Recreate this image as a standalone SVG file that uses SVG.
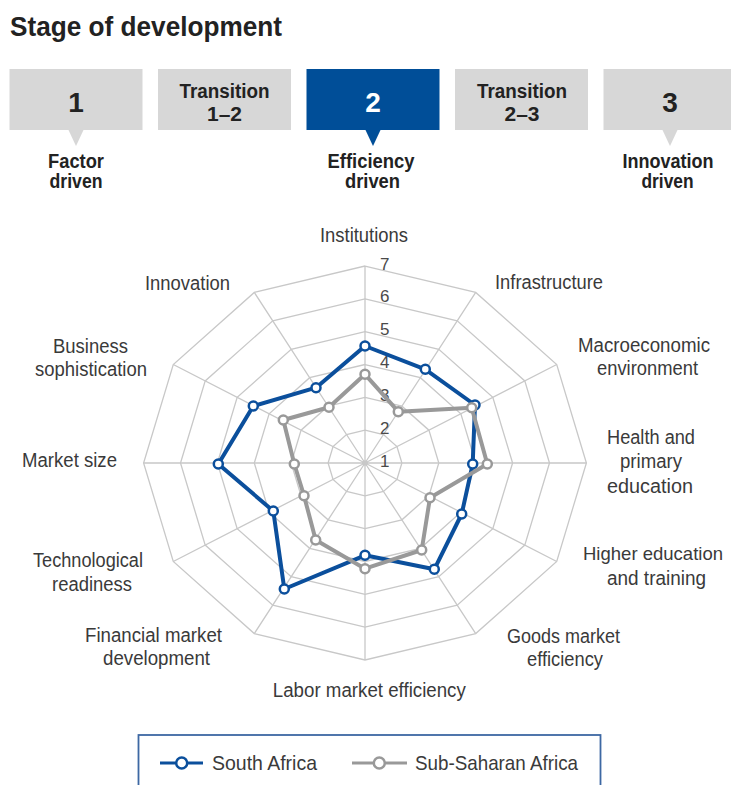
<svg xmlns="http://www.w3.org/2000/svg" width="731" height="785" viewBox="0 0 731 785">
<style>
text{font-family:"Liberation Sans",Arial,sans-serif;}
.title{font-size:28px;font-weight:bold;fill:#222;}
.box{fill:#d7d7d7;}
.boxb{fill:#004e98;}
.bt{font-size:20px;font-weight:bold;fill:#222;text-anchor:middle;}
.num{font-size:28px;font-weight:bold;fill:#222;text-anchor:middle;}
.lab{font-size:20px;fill:#3a3a3a;text-anchor:middle;}
.sc{font-size:17px;fill:#4a4a4a;}
.ring{fill:none;stroke:#c8c8c8;stroke-width:1.3;}
.spoke{stroke:#c8c8c8;stroke-width:1.3;}
.sa{fill:none;stroke:#0b4f9c;stroke-width:4;stroke-linejoin:round;}
.ssa{fill:none;stroke:#999;stroke-width:4;stroke-linejoin:round;}
.msa{fill:#fff;stroke:#0b4f9c;stroke-width:2.5;}
.mssa{fill:#fff;stroke:#999;stroke-width:2.5;}
.leg{font-size:21px;fill:#3a3a3a;}
</style>
<rect width="731" height="785" fill="#fff"/>
<text class="title" x="10" y="36" textLength="272" lengthAdjust="spacingAndGlyphs">Stage of development</text>

<g id="stage1">
<rect class="box" x="9.5" y="69" width="133" height="61"/>
<polygon class="box" points="68,129 84,129 76,146"/>
<text class="num" x="76" y="112">1</text>
<text class="bt" x="76" y="168" textLength="56" lengthAdjust="spacingAndGlyphs">Factor</text>
<text class="bt" x="76" y="188" textLength="53" lengthAdjust="spacingAndGlyphs">driven</text>
</g>
<g id="transition12">
<rect class="box" x="158" y="69" width="133" height="61"/>
<text class="bt" x="224.5" y="98" textLength="90" lengthAdjust="spacingAndGlyphs">Transition</text>
<text class="bt" x="224.5" y="121" textLength="35" lengthAdjust="spacingAndGlyphs">1–2</text>
</g>
<g id="stage2">
<rect class="boxb" x="306.5" y="69" width="133" height="61"/>
<polygon class="boxb" points="365,129 381,129 373,146"/>
<text class="num" x="373" y="112" style="fill:#fff">2</text>
<text class="bt" x="371" y="168" textLength="87" lengthAdjust="spacingAndGlyphs">Efficiency</text>
<text class="bt" x="372.5" y="188" textLength="55" lengthAdjust="spacingAndGlyphs">driven</text>
</g>
<g id="transition23">
<rect class="box" x="455" y="69" width="133" height="61"/>
<text class="bt" x="522" y="98" textLength="90" lengthAdjust="spacingAndGlyphs">Transition</text>
<text class="bt" x="522" y="121" textLength="35" lengthAdjust="spacingAndGlyphs">2–3</text>
</g>
<g id="stage3">
<rect class="box" x="603.5" y="69" width="133" height="61"/>
<polygon class="box" points="662,129 678,129 670,146"/>
<text class="num" x="670" y="112">3</text>
<text class="bt" x="668" y="168" textLength="91" lengthAdjust="spacingAndGlyphs">Innovation</text>
<text class="bt" x="667.5" y="188" textLength="52" lengthAdjust="spacingAndGlyphs">driven</text>
</g>

<g id="grid">
<polygon class="ring" points="365,430.17 383.45,434.57 396.96,446.59 401.9,463 396.96,479.42 383.45,491.43 365,495.83 346.55,491.43 333.04,479.42 328.1,463 333.04,446.58 346.55,434.57"/>
<polygon class="ring" points="365,397.34 401.9,406.14 428.91,430.17 438.8,463 428.91,495.83 401.9,519.86 365,528.66 328.1,519.86 301.09,495.83 291.2,463 301.09,430.17 328.1,406.14"/>
<polygon class="ring" points="365,364.51 420.35,377.71 460.87,413.75 475.7,463 460.87,512.25 420.35,548.29 365,561.49 309.65,548.29 269.13,512.25 254.3,463 269.13,413.75 309.65,377.71"/>
<polygon class="ring" points="365,331.68 438.8,349.28 492.82,397.34 512.6,463 492.82,528.66 438.8,576.72 365,594.32 291.2,576.72 237.18,528.66 217.4,463 237.18,397.34 291.2,349.28"/>
<polygon class="ring" points="365,298.85 457.25,320.85 524.78,380.92 549.5,463 524.78,545.08 457.25,605.15 365,627.15 272.75,605.15 205.22,545.08 180.5,463 205.22,380.92 272.75,320.85"/>
<polygon class="ring" points="365,266.02 475.7,292.41 556.73,364.51 586.4,463 556.73,561.49 475.7,633.59 365,659.98 254.3,633.59 173.27,561.49 143.6,463 173.27,364.51 254.3,292.41"/>
<path class="spoke" d="M365,463L365,266.02M365,463L475.7,292.41M365,463L556.73,364.51M365,463L586.4,463M365,463L556.73,561.49M365,463L475.7,633.59M365,463L365,659.98M365,463L254.3,633.59M365,463L173.27,561.49M365,463L143.6,463M365,463L173.27,364.51M365,463L254.3,292.41"/>
<circle cx="365" cy="463" r="2.5" fill="#c8c8c8"/>
</g>

<g id="scale">
<text class="sc" x="380" y="269.5">7</text>
<text class="sc" x="380" y="302.3">6</text>
<text class="sc" x="380" y="335.2">5</text>
<text class="sc" x="380" y="368">4</text>
<text class="sc" x="380" y="400.8">3</text>
<text class="sc" x="380" y="433.6">2</text>
<text class="sc" x="380" y="466.5">1</text>
</g>

<g id="axis-labels">
<text class="lab" x="364" y="242" textLength="88" lengthAdjust="spacingAndGlyphs">Institutions</text>
<text class="lab" x="549" y="289" textLength="108" lengthAdjust="spacingAndGlyphs">Infrastructure</text>
<text class="lab" x="644" y="352" textLength="132" lengthAdjust="spacingAndGlyphs">Macroeconomic</text>
<text class="lab" x="647.5" y="375" textLength="101" lengthAdjust="spacingAndGlyphs">environment</text>
<text class="lab" x="651" y="444" textLength="88" lengthAdjust="spacingAndGlyphs">Health and</text>
<text class="lab" x="651" y="468" textLength="62" lengthAdjust="spacingAndGlyphs">primary</text>
<text class="lab" x="650" y="493" textLength="86" lengthAdjust="spacingAndGlyphs">education</text>
<text class="lab" x="653" y="560" textLength="140" lengthAdjust="spacingAndGlyphs" style="font-size:19px">Higher education</text>
<text class="lab" x="656.5" y="585" textLength="99" lengthAdjust="spacingAndGlyphs">and training</text>
<text class="lab" x="563.5" y="643" textLength="113" lengthAdjust="spacingAndGlyphs">Goods market</text>
<text class="lab" x="565" y="666" textLength="76" lengthAdjust="spacingAndGlyphs">efficiency</text>
<text class="lab" x="369.3" y="697" textLength="193" lengthAdjust="spacingAndGlyphs">Labor market efficiency</text>
<text class="lab" x="153.5" y="642" textLength="137" lengthAdjust="spacingAndGlyphs">Financial market</text>
<text class="lab" x="156.5" y="665" textLength="107" lengthAdjust="spacingAndGlyphs">development</text>
<text class="lab" x="88" y="567" textLength="110" lengthAdjust="spacingAndGlyphs">Technological</text>
<text class="lab" x="92" y="591" textLength="80" lengthAdjust="spacingAndGlyphs">readiness</text>
<text class="lab" x="69.5" y="467" textLength="95" lengthAdjust="spacingAndGlyphs">Market size</text>
<text class="lab" x="90.5" y="353" textLength="75" lengthAdjust="spacingAndGlyphs">Business</text>
<text class="lab" x="91" y="376" textLength="112" lengthAdjust="spacingAndGlyphs">sophistication</text>
<text class="lab" x="187.5" y="290" textLength="85" lengthAdjust="spacingAndGlyphs">Innovation</text>
</g>

<g id="series-south-africa">
<polygon class="sa" points="365,346 425.3,369.3 475,405 472.7,464 461.7,514 434.3,569.3 365,555.3 284.3,589 273.3,511 218.3,464 253.3,406 316,387.7"/>
<g class="msa">
<circle cx="365" cy="346" r="4.5"/><circle cx="425.3" cy="369.3" r="4.5"/><circle cx="475" cy="405" r="4.5"/><circle cx="472.7" cy="464" r="4.5"/><circle cx="461.7" cy="514" r="4.5"/><circle cx="434.3" cy="569.3" r="4.5"/><circle cx="365" cy="555.3" r="4.5"/><circle cx="284.3" cy="589" r="4.5"/><circle cx="273.3" cy="511" r="4.5"/><circle cx="218.3" cy="464" r="4.5"/><circle cx="253.3" cy="406" r="4.5"/><circle cx="316" cy="387.7" r="4.5"/>
</g>
</g>
<g id="series-sub-saharan-africa">
<polygon class="ssa" points="365,374.3 398.3,411.7 471.7,407.7 487.3,464 430,497.7 421.7,550 365,568.7 315.7,540 304,495.7 294.3,464 283.3,420 329,407.3"/>
<g class="mssa">
<circle cx="365" cy="374.3" r="4.5"/><circle cx="398.3" cy="411.7" r="4.5"/><circle cx="471.7" cy="407.7" r="4.5"/><circle cx="487.3" cy="464" r="4.5"/><circle cx="430" cy="497.7" r="4.5"/><circle cx="421.7" cy="550" r="4.5"/><circle cx="365" cy="568.7" r="4.5"/><circle cx="315.7" cy="540" r="4.5"/><circle cx="304" cy="495.7" r="4.5"/><circle cx="294.3" cy="464" r="4.5"/><circle cx="283.3" cy="420" r="4.5"/><circle cx="329" cy="407.3" r="4.5"/>
</g>
</g>

<g id="legend">
<rect x="138.5" y="735" width="462" height="70" fill="#fff" stroke="#3d68a3" stroke-width="1.8"/>
<line x1="160" y1="763" x2="203" y2="763" stroke="#0b4f9c" stroke-width="3"/>
<circle cx="181.7" cy="763" r="5.5" fill="#fff" stroke="#0b4f9c" stroke-width="2.5"/>
<text class="leg" x="212" y="770" textLength="105" lengthAdjust="spacingAndGlyphs">South Africa</text>
<line x1="352" y1="763" x2="407" y2="763" stroke="#999" stroke-width="3"/>
<circle cx="379.3" cy="763" r="5.5" fill="#fff" stroke="#999" stroke-width="2.5"/>
<text class="leg" x="415" y="770" textLength="163" lengthAdjust="spacingAndGlyphs">Sub-Saharan Africa</text>
</g>
</svg>
